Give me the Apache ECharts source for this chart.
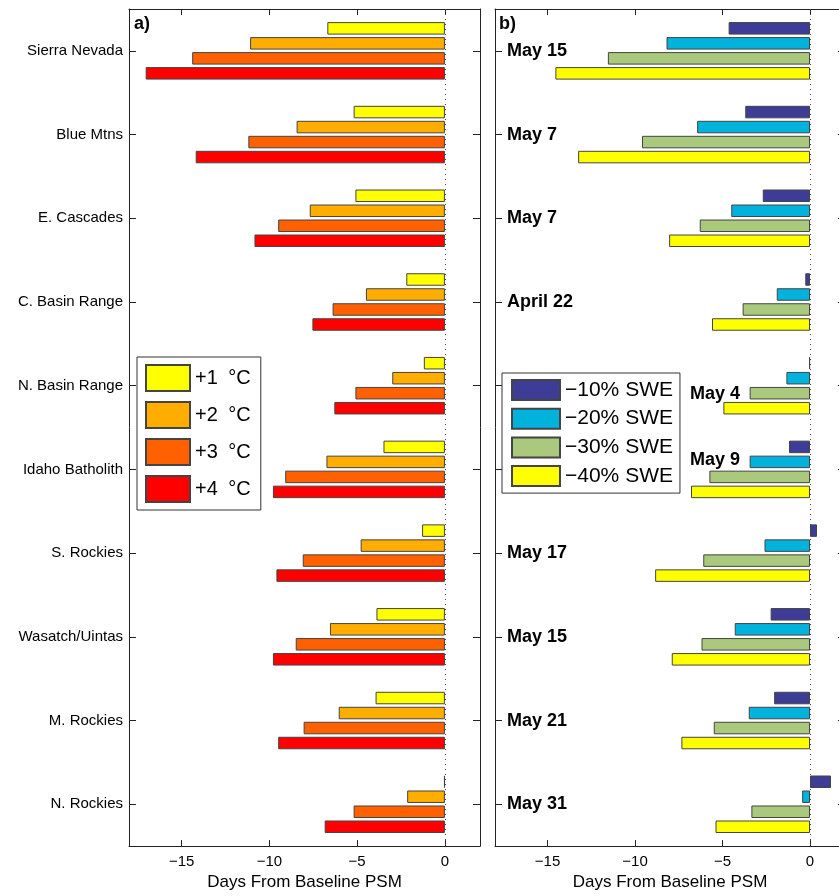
<!DOCTYPE html>
<html>
<head>
<meta charset="utf-8">
<script src="https://cdn.jsdelivr.net/npm/echarts@6/dist/echarts.min.js"></script>
<style>
html,body{margin:0;padding:0;background:#fff;overflow:hidden;}
#chart{width:846px;height:896px;}
</style>
</head>
<body>
<div id="chart"></div>
<script>
// ---------------- data ----------------
const regions = ['Sierra Nevada','Blue Mtns','E. Cascades','C. Basin Range','N. Basin Range','Idaho Batholith','S. Rockies','Wasatch/Uintas','M. Rockies','N. Rockies'];
const psmDates = ['May 15','May 7','May 7','April 22','May 4','May 9','May 17','May 15','May 21','May 31'];
const warmNames = ['+1 °C','+2 °C','+3 °C','+4 °C'];
const sweNames = ['\u221210% SWE','\u221220% SWE','\u221230% SWE','\u221240% SWE'];
const warm1 = [-6.7,-5.2,-5.1,-2.2,-1.2,-3.5,-1.3,-3.9,-3.95,-0.05];
const warm2 = [-11.1,-8.45,-7.7,-4.5,-3.0,-6.75,-4.8,-6.55,-6.05,-2.15];
const warm3 = [-14.4,-11.2,-9.5,-6.4,-5.1,-9.1,-8.1,-8.5,-8.05,-5.2];
const warm4 = [-17.05,-14.2,-10.85,-7.55,-6.3,-9.8,-9.6,-9.8,-9.5,-6.85];
const swe10 = [-4.65,-3.7,-2.7,-0.27,-0.05,-1.2,0.4,-2.25,-2.05,1.2];
const swe20 = [-8.2,-6.45,-4.5,-1.9,-1.35,-3.45,-2.6,-4.3,-3.5,-0.45];
const swe30 = [-11.55,-9.6,-6.3,-3.85,-3.45,-5.75,-6.1,-6.2,-5.5,-3.35];
const swe40 = [-14.55,-13.25,-8.05,-5.6,-4.95,-6.8,-8.85,-7.9,-7.35,-5.4];
const xTicks = [-15,-10,-5,0];
const xMin = -18, xMax = 2;

// ---------------- style ----------------
const FONT = '"Liberation Sans", Arial, Helvetica, sans-serif';
const warmColors = ['#FFFF00','#FFAE00','#FF6000','#FF0000'];
const sweColors = ['#3D3D98','#00B2DC','#AAC97C','#FFFF00'];
const frameColor = '#222';

function minus(v){ return String(v).replace('-', '\u2212'); }

function xAxisPair(gridIndex){
  return [
    {
      type:'value', gridIndex, position:'bottom', min:xMin, max:xMax,
      splitLine:{show:false},
      axisLine:{show:true, onZero:false, lineStyle:{color:frameColor, width:1}},
      axisTick:{show:true, inside:true, length:6, customValues:xTicks, lineStyle:{color:frameColor}},
      axisLabel:{show:true, customValues:xTicks, formatter:minus, fontFamily:FONT, fontSize:15, color:'#000', margin:8},
      name:'Days From Baseline PSM', nameLocation:'middle', nameGap:27,
      nameTextStyle:{fontFamily:FONT, fontSize:17, color:'#000'}
    },
    {
      type:'value', gridIndex, position:'top', min:xMin, max:xMax,
      splitLine:{show:false},
      axisLine:{show:true, onZero:false, lineStyle:{color:frameColor, width:1}},
      axisTick:{show:true, inside:true, length:6, customValues:xTicks, lineStyle:{color:frameColor}},
      axisLabel:{show:false}
    }
  ];
}

function yAxisDef(gridIndex, position, label){
  return {
    type:'category', gridIndex, data:regions, inverse:true, position,
    axisLine:{show:true, onZero:false, lineStyle:{color:frameColor}},
    axisTick:{show:true, inside:true, length:7, alignWithLabel:true, lineStyle:{color:frameColor}},
    axisLabel:label
  };
}

function barSeries(name, data, color, xi, yi, withZero){
  const s = {
    type:'bar', name, data, xAxisIndex:xi, yAxisIndex:yi,
    barWidth:12.5, barGap:'20%',
    itemStyle:{color, borderColor:'#444', borderWidth:1},
    emphasis:{disabled:true}, animation:false
  };
  if (withZero){
    s.markLine = {
      silent:true, symbol:['none','none'], label:{show:false},
      lineStyle:{type:[1,4], color:'#444', width:1},
      data:[{xAxis:0}], animation:false
    };
  }
  return s;
}

const rightLabelRich = {
  n:{fontFamily:FONT, fontSize:18, fontWeight:'bold', color:'#000'},
  s4:{fontFamily:FONT, fontSize:18, fontWeight:'bold', color:'#000', padding:[16,0,0,183]},
  s5:{fontFamily:FONT, fontSize:18, fontWeight:'bold', color:'#000', padding:[0,0,19,183]}
};

const option = {
  backgroundColor:'#fff',
  animation:false,
  title:[
    {text:'a)', left:134, top:15, padding:0, textStyle:{fontFamily:FONT, fontSize:18, fontWeight:'bold', color:'#000'}},
    {text:'b)', left:499, top:15, padding:0, textStyle:{fontFamily:FONT, fontSize:18, fontWeight:'bold', color:'#000'}}
  ],
  grid:[
    {left:129, top:9, width:351, height:839},
    {left:495, top:9, width:350, height:839}
  ],
  xAxis:[...xAxisPair(0), ...xAxisPair(1)],
  yAxis:[
    yAxisDef(0, 'left', {fontFamily:FONT, fontSize:15, color:'#000', margin:6}),
    yAxisDef(0, 'right', {show:false}),
    yAxisDef(1, 'left', {
      inside:true, margin:12, rich:rightLabelRich,
      formatter:function(v, i){
        const t = psmDates[i];
        if (i === 4) return '{s4|' + t + '}';
        if (i === 5) return '{s5|' + t + '}';
        return '{n|' + t + '}';
      }
    }),
    yAxisDef(1, 'right', {show:false})
  ],
  legend:[
    {
      data:warmNames, orient:'vertical', left:137, top:357,
      itemWidth:44, itemHeight:26, itemGap:9, padding:[7,10,7,8],
      borderColor:'#333', borderWidth:1, backgroundColor:'#fff',
      selectedMode:false, icon:'rect',
      formatter:function(n){
        const parts = n.split(' ');
        return parts[0] + ' {d|' + parts[1] + '}';
      },
      textStyle:{fontFamily:FONT, fontSize:20, color:'#000',
        rich:{d:{fontFamily:FONT, fontSize:20, color:'#000', padding:[0,0,0,5]}}}
    },
    {
      data:sweNames, orient:'vertical', left:502, top:373,
      itemWidth:48, itemHeight:20, itemGap:6.7, padding:[6,7,6,9],
      borderColor:'#333', borderWidth:1, backgroundColor:'#fff',
      selectedMode:false, icon:'rect',
      textStyle:{fontFamily:FONT, fontSize:21, color:'#000'}
    }
  ],
  series:[
    barSeries(warmNames[0], warm1, warmColors[0], 0, 0, true),
    barSeries(warmNames[1], warm2, warmColors[1], 0, 0, false),
    barSeries(warmNames[2], warm3, warmColors[2], 0, 0, false),
    barSeries(warmNames[3], warm4, warmColors[3], 0, 0, false),
    barSeries(sweNames[0], swe10, sweColors[0], 2, 2, true),
    barSeries(sweNames[1], swe20, sweColors[1], 2, 2, false),
    barSeries(sweNames[2], swe30, sweColors[2], 2, 2, false),
    barSeries(sweNames[3], swe40, sweColors[3], 2, 2, false)
  ]
};

const chart = echarts.init(document.getElementById('chart'), null, {renderer:'canvas'});
chart.setOption(option);
</script>
</body>
</html>
